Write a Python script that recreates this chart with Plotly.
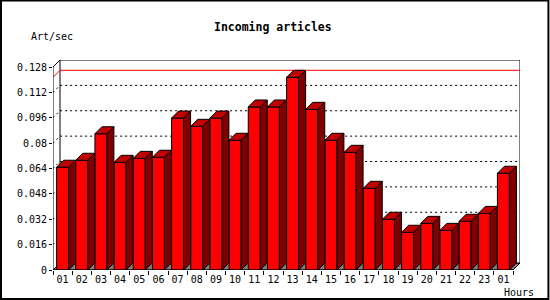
import plotly.graph_objects as go

# ---------------- data ----------------
hours = ["01", "02", "03", "04", "05", "06", "07", "08", "09", "10", "11", "12",
         "13", "14", "15", "16", "17", "18", "19", "20", "21", "22", "23", "01"]
rates = [0.0648, 0.0692, 0.0859, 0.0679, 0.0704, 0.0711, 0.0958, 0.0906,
         0.0958, 0.0818, 0.1028, 0.1028, 0.1215, 0.1013, 0.0818, 0.0742,
         0.0515, 0.0320, 0.0238, 0.0294, 0.0250, 0.0307, 0.0357, 0.0610]
y_ticks = [0, 0.016, 0.032, 0.048, 0.064, 0.080, 0.096, 0.112, 0.128]
y_tick_labels = ["0", "0.016", "0.032", "0.048", "0.064", "0.08", "0.096", "0.112", "0.128"]
title_text = "Incoming articles"
y_title = "Art/sec"
x_title = "Hours"

# ---------------- geometry ----------------
W, H = 550, 300
L, T = 53, 60
N = len(hours)
cat_px = 19.17
depth_px = 7
front_h = 203
ymax = y_ticks[-1]
plot_w = N * cat_px + depth_px
plot_h = front_h + depth_px
R = W - L - plot_w
B = H - T - plot_h
dx = depth_px / cat_px
dy = ymax * depth_px / front_h
x_range = [0, N + dx]
y_range = [0, ymax + dy]
bw = 12 / cat_px


def px_x(p):
    return (p - L) / plot_w


def px_y(p):
    return (H - B - p) / plot_h


FRONT = "#ff0000"
SIDE = "#800000"
TOP = "#c00000"
FLOOR = "#808080"
MONO = "DejaVu Sans Mono"

centers = [i + 0.5 for i in range(N)]

# side and top faces
side_x, side_y, top_x, top_y = [], [], [], []
for c, v in zip(centers, rates):
    xl, xr = c - bw / 2, c + bw / 2
    side_x += [xr, xr + dx, xr + dx, xr, xr, None]
    side_y += [0, dy, v + dy, v, 0, None]
    top_x += [xl, xr, xr + dx, xl + dx, xl, None]
    top_y += [v, v, v + dy, v + dy, v, None]

fig = go.Figure()
fig.add_trace(go.Bar(x=centers, y=rates, width=bw,
                     marker=dict(color=FRONT, line=dict(color="black", width=1)),
                     hoverinfo="skip"))
fig.add_trace(go.Scatter(x=side_x, y=side_y, mode="lines", fill="toself",
                         fillcolor=SIDE, line=dict(color="black", width=1),
                         hoverinfo="skip", cliponaxis=False))
fig.add_trace(go.Scatter(x=top_x, y=top_y, mode="lines", fill="toself",
                         fillcolor=TOP, line=dict(color="black", width=1),
                         hoverinfo="skip", cliponaxis=False))

shapes = []
# floor
shapes.append(dict(type="path", xref="x", yref="y", layer="below",
                   path=f"M 0,0 L {N},0 L {N+dx},{dy} L {dx},{dy} Z",
                   fillcolor=FLOOR, line=dict(color="black", width=1)))
# back wall
shapes.append(dict(type="rect", xref="x", yref="y", layer="below",
                   x0=dx, y0=dy, x1=N + dx, y1=ymax + dy,
                   fillcolor="white", line=dict(color="black", width=1)))
# grid lines
for v in y_ticks[1:-1]:
    shapes.append(dict(type="path", xref="x", yref="y", layer="below",
                       path=f"M 0,{v} L {dx},{v+dy} L {N+dx},{v+dy}",
                       line=dict(color="black", width=1, dash="2px,3px")))
# max line
m = max(rates)
shapes.append(dict(type="path", xref="x", yref="y", layer="below",
                   path=f"M 0,{m} L {dx},{m+dy} L {N+dx},{m+dy}",
                   line=dict(color="red", width=1)))
# front axis and edges
shapes.append(dict(type="path", xref="x", yref="y", layer="above",
                   path=f"M {dx},{ymax+dy} L 0,{ymax} L 0,0 L {N},0 L {N+dx},{dy}",
                   line=dict(color="black", width=1)))
# outer border of the whole image
shapes.append(dict(type="rect", xref="paper", yref="paper",
                   x0=px_x(1), y0=px_y(299), x1=px_x(548.5), y1=px_y(0.5),
                   line=dict(color="black", width=2)))

fig.update_layout(
    width=W, height=H,
    margin=dict(l=L, r=R, t=T, b=B, pad=0),
    paper_bgcolor="white", plot_bgcolor="rgba(0,0,0,0)",
    showlegend=False,
    shapes=shapes,
    font=dict(family=MONO, size=10, color="black"),
    xaxis=dict(range=x_range, showgrid=False, zeroline=False, showline=False,
               tickmode="array", tickvals=centers, ticktext=hours, ticks="",
               tickfont=dict(family=MONO, size=10, color="black"),
               ticklabelstandoff=2,
               minor=dict(tickmode="linear", tick0=0, dtick=1, ticks="outside",
                          ticklen=4, tickcolor="black", tickwidth=1, showgrid=False)),
    yaxis=dict(range=y_range, showgrid=False, zeroline=False, showline=False,
               tickmode="array", tickvals=y_ticks, ticktext=y_tick_labels,
               ticks="outside", ticklen=3, tickcolor="black", tickwidth=1,
               tickfont=dict(family=MONO, size=10, color="black")),
    annotations=[
        dict(text=title_text, xref="paper", yref="paper", x=px_x(273.5), y=px_y(27),
             xanchor="center", yanchor="middle", showarrow=False,
             font=dict(family=MONO, size=11.5, color="black", weight="bold")),
        dict(text=y_title, xref="paper", yref="paper", x=px_x(29), y=px_y(37),
             xanchor="left", yanchor="middle", showarrow=False,
             font=dict(family=MONO, size=10, color="black")),
        dict(text=x_title, xref="paper", yref="paper", x=px_x(519), y=px_y(292),
             xanchor="center", yanchor="middle", showarrow=False,
             font=dict(family=MONO, size=10, color="black")),
    ],
)

fig.write_html("out.html")
